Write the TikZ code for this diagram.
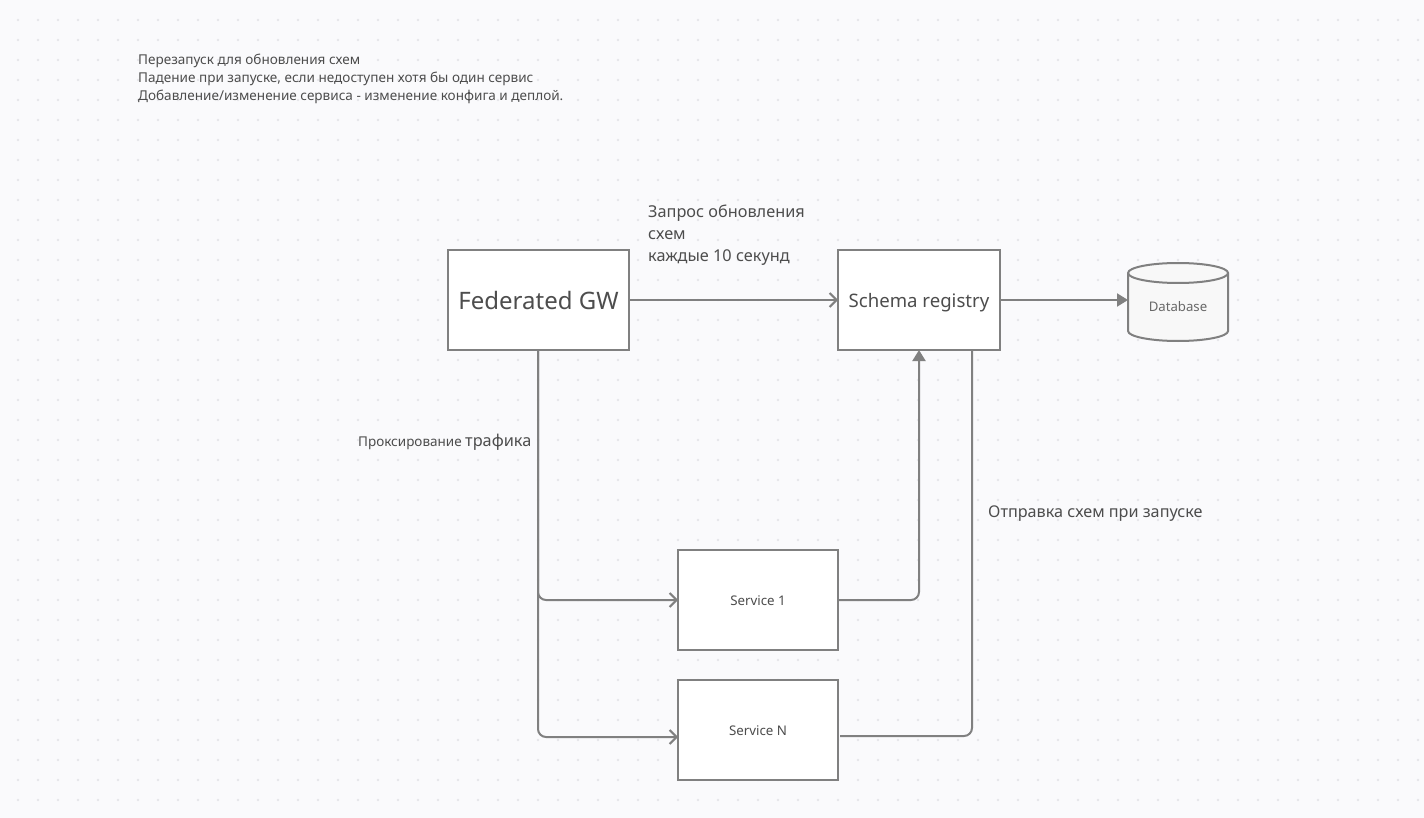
\documentclass[tikz,border=0pt]{standalone}
\usepackage{fontspec}
\setmainfont{Noto Sans}
\usetikzlibrary{arrows.meta}
\definecolor{bgc}{HTML}{FAFAFC}
\definecolor{dotc}{HTML}{E6E6EA}
\definecolor{linec}{HTML}{808080}
\definecolor{textc}{HTML}{4D4D4D}
\definecolor{dbfill}{HTML}{F8F8F8}
\newcommand{\fs}[2]{\fontsize{#1}{#2}\selectfont}
\newcommand{\dn}[1]{\raisebox{-1pt}{#1}}
\tikzset{
  x=1pt,y=-1pt,
  boxn/.style={draw=linec,line width=2pt,fill=white,text=textc,inner sep=0pt,outer sep=0pt,align=center,text depth=0pt},
  lbl/.style={text=textc,inner sep=0pt,anchor=west,align=left},
  conn/.style={draw=linec,line width=2pt,rounded corners=8pt},
  barb/.style={-{Straight Barb[length=7pt,width=14pt,line width=2pt]}},
  tri/.style={-{Triangle[length=11pt,width=13pt]}},
}
\begin{document}
\begin{tikzpicture}
\useasboundingbox (0,0) rectangle (1424,818);
\fill[bgc] (0,0) rectangle (1424,818);
\foreach \i in {0,...,70}{\foreach \j in {1,...,40}{
  \fill[dotc] ({18+20*\i},{20*\j}) circle (1.3pt);
}}
\node[boxn,minimum width=181pt,minimum height=100pt,font=\fs{24}{28}] (fg) at (538.5,300) {\dn{Federated GW}};
\node[boxn,minimum width=162pt,minimum height=100pt,font=\fs{18.6}{22}] (sr) at (919,300) {\dn{Schema registry}};
\node[boxn,minimum width=160pt,minimum height=100pt,font=\fs{13.3}{15}] (s1) at (758,600) {\dn{Service 1}};
\node[boxn,minimum width=160pt,minimum height=100pt,font=\fs{13.3}{15}] (sn) at (758,730) {\dn{Service N}};
\node[inner sep=0pt,outer sep=0pt,minimum width=100pt,minimum height=78pt] (db) at (1178,302) {};
\begin{scope}[shift={(db.center)}]
  \draw[linec,line width=2pt,fill=dbfill] (-50,-29) arc[start angle=180,end angle=360,x radius=50,y radius=10]
     -- (50,29) arc[start angle=0,end angle=180,x radius=50,y radius=10] -- cycle;
  \draw[linec,line width=2pt] (-50,-29) arc[start angle=180,end angle=0,x radius=50,y radius=10];
\end{scope}
\node[text=textc!85!white,inner sep=0pt,font=\fs{13.2}{16}] (dbt) at (1178,307) {Database};
\coordinate (s1in) at (678,600);
\coordinate (snin) at (678,737);
\coordinate (snout) at (840,736);
\coordinate (srin) at (972,350);
\coordinate (dbin) at (1128,300);
\draw[conn,barb] (fg.east) -- (sr.west);
\draw[conn,tri] (sr.east) -- (dbin);
\draw[conn,barb] ([xshift=-0.5pt]fg.south) |- (s1in);
\draw[conn,barb] ([xshift=-0.5pt]fg.south) |- (snin);
\draw[conn,tri] (s1.east) -| (sr.south);
\draw[conn] (snout) -| (srin);
\node[lbl,font=\fs{13.55}{18}] (note) at (138,79) {Перезапуск для обновления схем\\Падение при запуске, если недоступен хотя бы один сервис\\Добавление/изменение сервиса - изменение конфига и деплой.};
\node[lbl,font=\fs{16.3}{22}] (req) at (648,235) {Запрос обновления\\схем\\каждые 10 секунд};
\node[lbl,font=\fs{13.5}{18}] (prox) at (358,442) {Проксирование {\fs{16.3}{18}трафика}};
\node[lbl,font=\fs{16.2}{20}] (send) at (988,514) {Отправка схем при запуске};
\end{tikzpicture}
\end{document}
